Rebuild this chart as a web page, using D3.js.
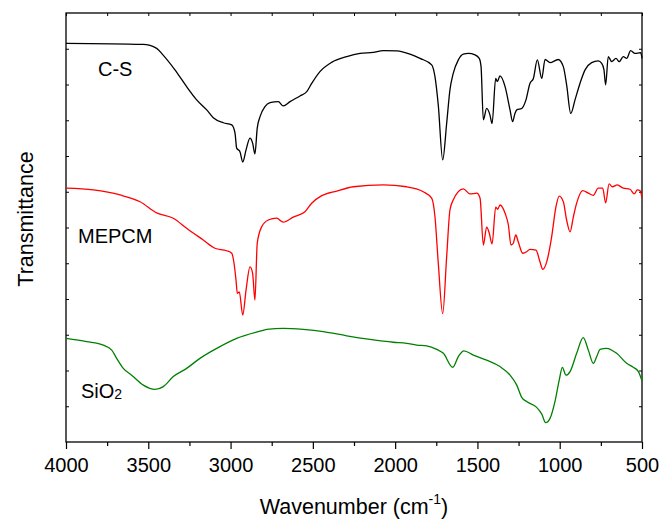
<!DOCTYPE html>
<html>
<head>
<meta charset="utf-8">
<script src="https://cdn.jsdelivr.net/npm/d3@7"></script>
<style>
  body { margin: 0; background: #fff; }
  text { font-family: Arial, "Liberation Sans", sans-serif; }
</style>
</head>
<body>
<svg id="chart" width="661" height="520"></svg>
<script>
// Espectros FTIR: [número de onda (cm-1), transmitância (u.a.)]
const csData = [
  [4000, 11.15], [3532, 11.12], [3449, 11.01], [3411, 10.83], [3338, 10.41], [3267, 9.94],
  [3206, 9.57], [3145, 9.29], [3105, 9.07], [3044, 8.93], [2993, 8.87], [2973, 8.64],
  [2963, 8.22], [2943, 8.12], [2926, 7.83], [2906, 8.17], [2882, 8.50], [2866, 8.36],
  [2852, 8.06], [2838, 8.78], [2821, 9.10], [2791, 9.38], [2760, 9.49], [2710, 9.52],
  [2680, 9.40], [2639, 9.52], [2578, 9.68], [2537, 9.80], [2507, 10.03], [2457, 10.36],
  [2386, 10.62], [2294, 10.78], [2213, 10.87], [2133, 10.90], [2072, 10.95], [1990, 10.94],
  [1910, 10.85], [1849, 10.73], [1778, 10.55], [1758, 10.22], [1738, 9.43], [1711, 7.89],
  [1687, 8.91], [1667, 9.85], [1647, 10.31], [1616, 10.69], [1586, 10.85], [1555, 10.87],
  [1515, 10.83], [1489, 10.73], [1478, 10.50], [1464, 9.01], [1444, 9.33], [1424, 9.15],
  [1411, 8.91], [1389, 10.17], [1379, 10.08], [1363, 10.24], [1332, 9.94], [1302, 9.29],
  [1286, 8.96], [1272, 9.19], [1261, 9.29], [1231, 9.33], [1205, 9.57], [1181, 10.03],
  [1160, 10.17], [1136, 10.69], [1109, 10.17], [1089, 10.70], [1059, 10.61], [1009, 10.70],
  [978, 10.50], [958, 9.99], [933, 9.19], [907, 9.57], [877, 10.03], [846, 10.41],
  [806, 10.61], [766, 10.66], [745, 10.59], [731, 10.41], [721, 9.99], [705, 10.78],
  [684, 10.64], [658, 10.73], [638, 10.64], [614, 10.78], [593, 10.73], [569, 10.95],
  [543, 10.87], [508, 10.89], [500, 10.73]
];

const mepcmData = [
  [4000, 7.10], [3834, 7.05], [3672, 6.91], [3550, 6.72], [3449, 6.41], [3348, 6.26],
  [3267, 5.98], [3166, 5.65], [3095, 5.42], [3024, 5.35], [2993, 5.28], [2979, 5.00],
  [2967, 4.53], [2959, 4.16], [2947, 4.20], [2926, 3.55], [2906, 4.25], [2882, 4.90],
  [2866, 4.72], [2852, 3.97], [2838, 5.56], [2811, 6.02], [2771, 6.21], [2720, 6.26],
  [2680, 6.15], [2619, 6.29], [2548, 6.44], [2507, 6.68], [2446, 6.89], [2355, 7.02],
  [2254, 7.14], [2072, 7.19], [1930, 7.14], [1829, 7.00], [1778, 6.82], [1758, 6.30],
  [1738, 5.01], [1711, 3.59], [1687, 5.18], [1667, 6.49], [1647, 6.77], [1586, 7.08],
  [1545, 6.94], [1504, 6.96], [1484, 6.82], [1464, 5.51], [1444, 6.01], [1428, 5.84],
  [1411, 5.54], [1389, 6.57], [1377, 6.51], [1363, 6.63], [1332, 6.40], [1312, 6.07],
  [1296, 5.51], [1282, 5.56], [1267, 5.79], [1252, 5.60], [1225, 5.28], [1201, 5.32],
  [1181, 5.39], [1144, 5.37], [1120, 5.04], [1103, 4.83], [1079, 5.04], [1049, 5.74],
  [1023, 6.58], [1003, 6.88], [978, 6.72], [958, 6.21], [937, 5.88], [917, 6.30],
  [897, 6.68], [860, 7.03], [826, 6.96], [796, 6.90], [766, 7.10], [739, 7.10],
  [721, 6.69], [700, 7.22], [680, 7.14], [650, 7.19], [614, 7.10], [573, 7.07],
  [547, 6.94], [529, 7.05], [512, 7.03], [500, 6.84]
];

const sio2Data = [
  [4000, 2.90], [3874, 2.81], [3773, 2.71], [3722, 2.57], [3692, 2.34], [3652, 2.06],
  [3601, 1.87], [3530, 1.59], [3459, 1.47], [3409, 1.55], [3348, 1.83], [3267, 2.06],
  [3186, 2.34], [3084, 2.62], [2963, 2.90], [2821, 3.10], [2780, 3.15], [2680, 3.18],
  [2558, 3.15], [2437, 3.09], [2294, 2.97], [2153, 2.87], [2011, 2.79], [1930, 2.76],
  [1869, 2.71], [1808, 2.69], [1747, 2.59], [1707, 2.48], [1650, 2.09], [1616, 2.39],
  [1582, 2.55], [1525, 2.43], [1444, 2.29], [1363, 2.11], [1302, 1.87], [1261, 1.59],
  [1231, 1.25], [1201, 1.13], [1140, 0.97], [1109, 0.78], [1085, 0.54], [1059, 0.66],
  [1029, 1.13], [1003, 1.73], [984, 2.09], [962, 1.87], [937, 1.97], [897, 2.48],
  [857, 2.92], [826, 2.57], [796, 2.20], [775, 2.39], [755, 2.59], [715, 2.62],
  [654, 2.48], [593, 2.20], [553, 2.09], [522, 1.97], [500, 1.71]
];

const seriesNames = ["C-S", "MEPCM", "SiO2"];
const seriesColors = ["#000000", "#ff0000", "#008000"];
const xMajorTicks = [4000, 3500, 3000, 2500, 2000, 1500, 1000, 500];
const xMinorTicks = [3750, 3250, 2750, 2250, 1750, 1250, 750];
const yTicks = [1, 2, 3, 4, 5, 6, 7, 8, 9, 10, 11];

const svg = d3.select("#chart");
const plotLeft = 66, plotRight = 642, plotTop = 13, plotBottom = 442;

const x = d3.scaleLinear().domain([4000, 500]).range([plotLeft, plotRight]);
const y = d3.scaleLinear().domain([0, 12]).range([plotBottom, plotTop]);

// Eixo inferior (ticks principais e secundários para fora)
svg.append("g")
  .attr("transform", `translate(0,${plotBottom})`)
  .call(d3.axisBottom(x).tickValues(xMajorTicks).tickSize(7).tickPadding(9).tickFormat(d3.format("d")))
  .call(g => g.select(".domain").remove())
  .call(g => g.selectAll("text").attr("font-size", "20px").attr("fill", "#000").style("font-family", "Arial, 'Liberation Sans', sans-serif"))
  .call(g => g.selectAll("line").attr("stroke", "#000").attr("stroke-width", 1.2));

svg.append("g")
  .attr("transform", `translate(0,${plotBottom})`)
  .call(d3.axisBottom(x).tickValues(xMinorTicks).tickSize(4).tickFormat(""))
  .call(g => g.select(".domain").remove())
  .call(g => g.selectAll("line").attr("stroke", "#000").attr("stroke-width", 1.2));

// Eixo superior (ticks para dentro)
svg.append("g")
  .attr("transform", `translate(0,${plotTop})`)
  .call(d3.axisBottom(x).tickValues(xMajorTicks.concat(xMinorTicks)).tickSize(3).tickFormat(""))
  .call(g => g.select(".domain").remove())
  .call(g => g.selectAll("line").attr("stroke", "#000").attr("stroke-width", 1));

// Eixos laterais (sem números, ticks para dentro)
svg.append("g")
  .attr("transform", `translate(${plotLeft},0)`)
  .call(d3.axisRight(y).tickValues(yTicks).tickSize(3).tickFormat(""))
  .call(g => g.select(".domain").remove())
  .call(g => g.selectAll("line").attr("stroke", "#000").attr("stroke-width", 1));

svg.append("g")
  .attr("transform", `translate(${plotRight},0)`)
  .call(d3.axisLeft(y).tickValues(yTicks).tickSize(3).tickFormat(""))
  .call(g => g.select(".domain").remove())
  .call(g => g.selectAll("line").attr("stroke", "#000").attr("stroke-width", 1));

// Moldura
svg.append("rect")
  .attr("x", plotLeft).attr("y", plotTop)
  .attr("width", plotRight - plotLeft).attr("height", plotBottom - plotTop)
  .attr("fill", "none").attr("stroke", "#000").attr("stroke-width", 1.3);

// Curvas
const line = d3.line()
  .x(d => x(d[0]))
  .y(d => y(d[1]))
  .curve(d3.curveMonotoneX);

[csData, mepcmData, sio2Data].forEach((data, i) => {
  svg.append("path")
    .datum(data)
    .attr("d", line)
    .attr("fill", "none")
    .attr("stroke", seriesColors[i])
    .attr("stroke-width", 1.3)
    .attr("stroke-linejoin", "round");
});

// Rótulos das curvas
svg.append("text").attr("x", 98).attr("y", 76).attr("font-size", "20px").text(seriesNames[0]);
svg.append("text").attr("x", 78).attr("y", 243).attr("font-size", "20px").text(seriesNames[1]);
const sio = svg.append("text").attr("x", 81).attr("y", 398).attr("font-size", "20px");
sio.append("tspan").text("SiO");
sio.append("tspan").attr("font-size", "14px").attr("dy", 1).text("2");

// Títulos dos eixos
const xt = svg.append("text")
  .attr("x", 354)
  .attr("y", 514)
  .attr("text-anchor", "middle")
  .attr("font-size", "21.5px");
xt.append("tspan").text("Wavenumber (cm");
xt.append("tspan").attr("font-size", "14px").attr("dy", -10).text("-1");
xt.append("tspan").attr("dy", 10).text(")");

svg.append("text")
  .attr("transform", "translate(33,219) rotate(-90)")
  .attr("text-anchor", "middle")
  .attr("font-size", "21.5px")
  .text("Transmittance");
</script>
</body>
</html>
